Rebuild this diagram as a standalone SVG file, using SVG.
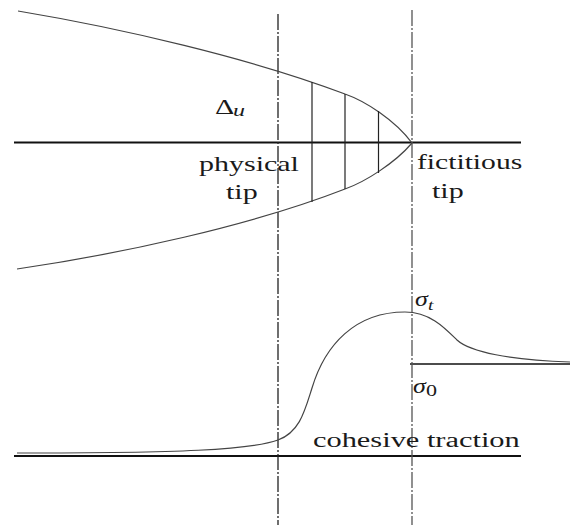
<svg xmlns="http://www.w3.org/2000/svg" width="570" height="525" viewBox="0 0 570 525">
<style>
.axis{stroke:#111;stroke-width:2;fill:none}
.curve{stroke:#444;stroke-width:1.2;fill:none}
.dd{stroke:#222;stroke-width:1.3;stroke-dasharray:16 2 2 2;fill:none}
.hatch{stroke:#222;stroke-width:1.2;fill:none}
.t{font-family:"Liberation Serif",serif;font-size:20px;fill:#1a1a1a}
.i{font-style:italic}
</style>
<rect width="570" height="525" fill="#fff"/>
<g id="connectors">
<line class="axis" x1="14" y1="142.5" x2="521" y2="142.5"/>
<line class="axis" x1="14" y1="456" x2="521" y2="456"/>
<line class="axis" x1="410" y1="364" x2="570" y2="364" style="stroke-width:1.5"/>
<line class="dd" x1="278" y1="14" x2="278" y2="525"/>
<line class="dd" x1="412" y1="10" x2="412" y2="525" style="stroke:#555"/>
<path class="curve" d="M18,11 C120,28 250,58 345,94 C365,101 395,120 412,143"/>
<path class="curve" d="M17,269 C120,254 250,226 345,189 C365,182 395,163 412,143"/>
<line class="hatch" x1="312" y1="82" x2="312" y2="202"/>
<line class="hatch" x1="345" y1="94" x2="345" y2="189"/>
<line class="hatch" x1="378.5" y1="111" x2="378.5" y2="173"/>
<path class="curve" d="M17,453 C180,453 250,450 278,440 C300,432 305,410 312,388 C325,345 355,312 405,312 C430,312 445,328 457,340 C470,352 510,360 570,362"/>
</g>
<g id="label-delta">
<text class="t" transform="translate(215,114) scale(1.5,1)">Δ</text>
<text class="t i" transform="translate(233,116) scale(1.5,1)" style="font-size:16px">u</text>
</g>
<g id="label-physical">
<text class="t" transform="translate(199,171) scale(1.5,1)">physical</text>
<text class="t" transform="translate(226,199) scale(1.5,1)">tip</text>
</g>
<g id="label-fictitious">
<text class="t" transform="translate(417,169) scale(1.48,1)">fictitious</text>
<text class="t" transform="translate(432,198) scale(1.5,1)">tip</text>
</g>
<g id="label-sigma-t">
<text class="t i" transform="translate(415,306) scale(1.3,1)">σ</text>
<text class="t i" transform="translate(428,310) scale(1.3,1)" style="font-size:15px">t</text>
</g>
<g id="label-sigma-0">
<text class="t i" transform="translate(413,393) scale(1.3,1)">σ</text>
<text class="t" transform="translate(426,396) scale(1.3,1)" style="font-size:17px">0</text>
</g>
<g id="label-cohesive">
<text class="t" transform="translate(313,447) scale(1.52,1)">cohesive traction</text>
</g>
</svg>
